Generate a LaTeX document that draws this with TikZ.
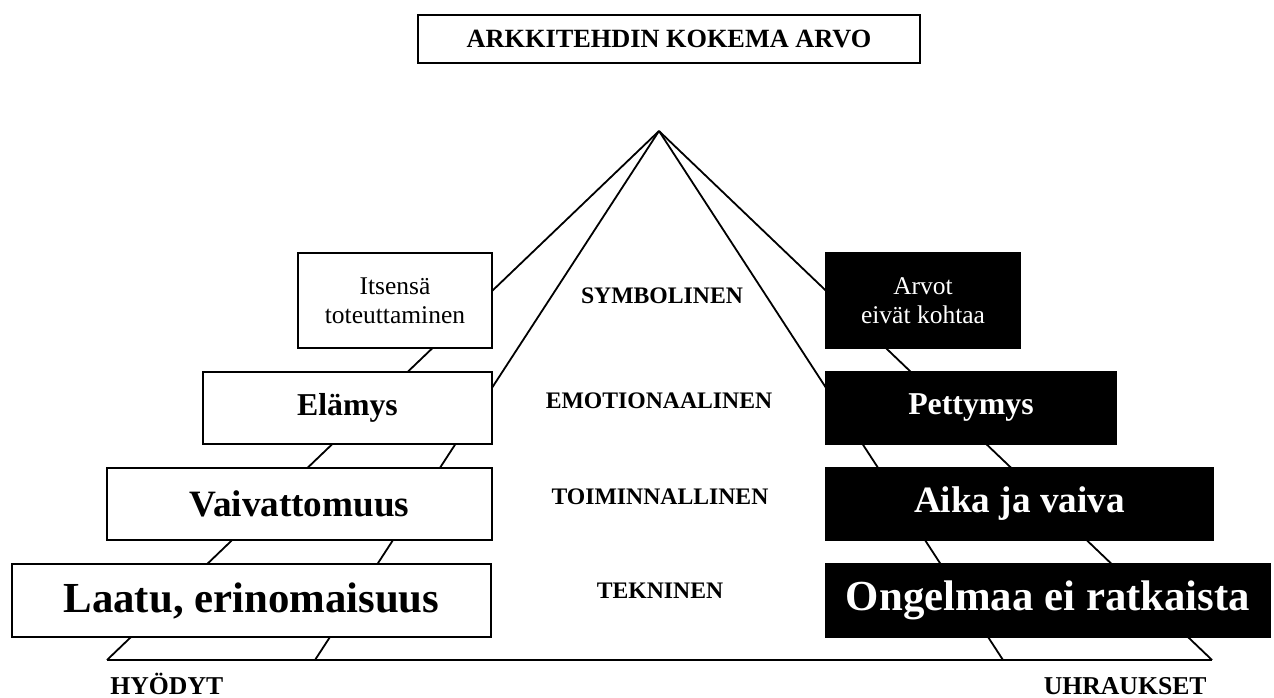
\documentclass[tikz,border=0pt]{standalone}
\usepackage{fontspec}
\setmainfont{Liberation Serif}

\begin{document}
\begin{tikzpicture}[x=0.5pt, y=-0.5pt,
  tier/.style={draw, line width=1pt, inner sep=0pt, align=center},
  gain/.style={tier, fill=white, text=black},
  loss/.style={tier, fill=black, text=white},
  edge/.style={line width=0.9pt},
  level/.style={inner sep=0pt, font=\fontsize{11.85}{14}\selectfont\bfseries},
  side/.style={inner sep=0pt, font=\fontsize{12.85}{15}\selectfont\bfseries},
  fsmall/.style={font=\fontsize{12.75}{14.6}\selectfont},
  fmid/.style={font=\fontsize{15.9}{18}\selectfont\bfseries},
  flarge/.style={font=\fontsize{18.6}{21}\selectfont\bfseries},
  fhuge/.style={font=\fontsize{21.4}{24}\selectfont\bfseries}]
\useasboundingbox (0,0) rectangle (1274,697);

% heading
\node[draw, line width=1pt, inner sep=0pt, minimum width=251pt, minimum height=24pt,
      font=\fontsize{13.15}{15}\selectfont\bfseries] (title) at (669,39) {ARKKITEHDIN KOKEMA ARVO};

% pyramid edges, running from the apex down to the base line
\coordinate (apex) at (659,131);
\coordinate (bl1) at (107,660);
\coordinate (bl2) at (315,660);
\coordinate (br2) at (1003,660);
\coordinate (br1) at (1212,660);
\draw[edge] (apex) -- (bl1);
\draw[edge] (apex) -- (bl2);
\draw[edge] (apex) -- (br2);
\draw[edge] (apex) -- (br1);
\draw[edge] (bl1) -- (br1);
\draw[line width=1.4pt] (bl2) -- (br2);

% benefits
\node[gain, fsmall, minimum width=97pt,    minimum height=47.5pt] (self) at (395,300.5)   {Itsensä\\toteuttaminen};
\node[gain, fmid,   minimum width=144.5pt, minimum height=36pt]   (exp)  at (347.5,408)   {Elämys};
\node[gain, flarge, minimum width=192.5pt, minimum height=36pt]   (ease) at (299.5,504)   {Vaivattomuus};
\node[gain, fhuge,  minimum width=239.5pt, minimum height=36.5pt] (qual) at (251.5,600.5) {Laatu, erinomaisuus};

% sacrifices
\node[loss, fsmall, minimum width=97pt,    minimum height=47.5pt] (vals)   at (923,300.5)   {Arvot\\eivät kohtaa};
\node[loss, fmid,   minimum width=145pt,   minimum height=36pt]   (disap)  at (971,408)     {Pettymys};
\node[loss, flarge, minimum width=193.5pt, minimum height=36pt]   (effort) at (1019.5,504)  {Aika ja vaiva};
\node[loss, fhuge,  minimum width=222pt,   minimum height=36.5pt] (fail)   at (1048,600.5)  {Ongelmaa ei ratkaista};

% value levels
\node[level] (l1) at (662,296) {SYMBOLINEN};
\node[level] (l2) at (659,401) {EMOTIONAALINEN};
\node[level] (l3) at (660,497) {TOIMINNALLINEN};
\node[level] (l4) at (660,591) {TEKNINEN};

% axis captions
\node[side, anchor=base west] (ben) at (110,694) {HYÖDYT};
\node[side, anchor=base east] (sac) at (1207,694) {UHRAUKSET};
\end{tikzpicture}
\end{document}
